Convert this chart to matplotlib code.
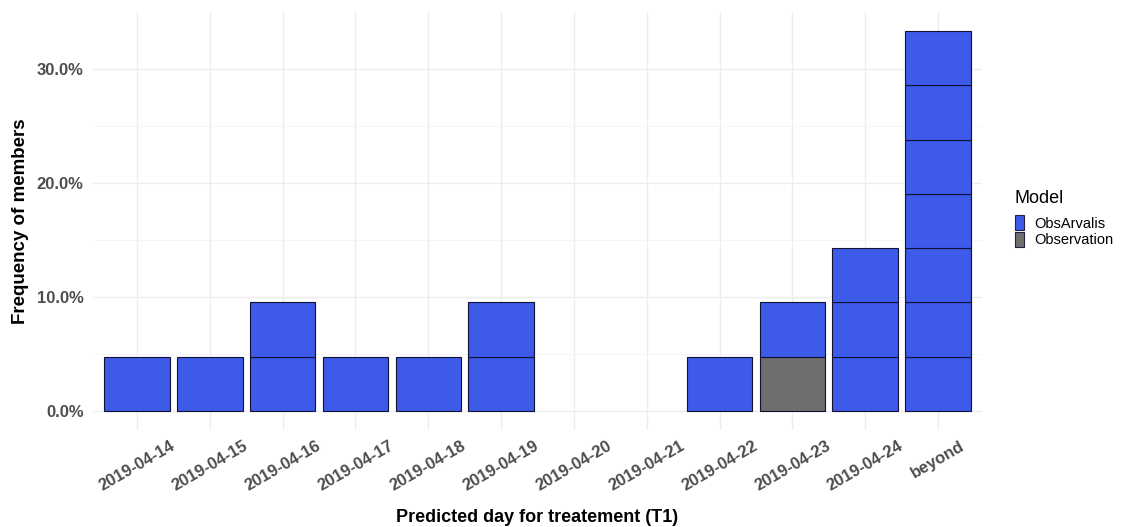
import matplotlib
matplotlib.use("Agg")
import matplotlib.pyplot as plt
from matplotlib.patches import Patch
from matplotlib.ticker import FixedLocator

plt.rcParams['font.family'] = ['Liberation Sans', 'DejaVu Sans']

# ---- data ----
categories = ['2019-04-14', '2019-04-15', '2019-04-16', '2019-04-17', '2019-04-18',
              '2019-04-19', '2019-04-20', '2019-04-21', '2019-04-22', '2019-04-23',
              '2019-04-24', 'beyond']
observation_counts = [0, 0, 0, 0, 0, 0, 0, 0, 0, 1, 0, 0]
obsarvalis_counts = [1, 1, 2, 1, 1, 2, 0, 0, 1, 1, 3, 7]
n_members = 21
y_ticks = [0, 10, 20, 30]
y_tick_labels = ['0.0%', '10.0%', '20.0%', '30.0%']
series_names = ['ObsArvalis', 'Observation']
series_colors = {'ObsArvalis': '#3D5AE8', 'Observation': '#6E6E6E'}

W, H = 1121, 527
fig = plt.figure(figsize=(W / 100, H / 100), dpi=100)
left_px, right_px, top_px, bottom_px = 93.3, 981.7, 12, 430
ax = fig.add_axes([left_px / W, (H - bottom_px) / H,
                   (right_px - left_px) / W, (bottom_px - top_px) / H])

unit = 100.0 / n_members
x = list(range(len(categories)))
for i in x:
    level = 0
    segs = [('Observation', observation_counts[i]), ('ObsArvalis', obsarvalis_counts[i])]
    for name, cnt in segs:
        for _ in range(cnt):
            ax.bar(i, unit, bottom=level * unit, width=0.9,
                   color=series_colors[name], edgecolor='#111133', linewidth=0.8,
                   zorder=3)
            level += 1

ymax = max(o + a for o, a in zip(observation_counts, obsarvalis_counts)) * unit
ax.set_ylim(-0.05 * ymax, ymax * 1.05)
ax.set_xlim(-0.6, len(categories) - 0.4)

# grid
ax.set_yticks(y_ticks)
ax.set_yticklabels(y_tick_labels)
ax.yaxis.set_minor_locator(FixedLocator([5, 15, 25]))
ax.set_xticks(x)
ax.set_xticklabels(categories, rotation=30, ha='center')
ax.grid(True, which='major', color='#EDEDED', linewidth=1.0, zorder=0)
ax.grid(True, which='minor', axis='y', color='#F4F4F4', linewidth=0.6, zorder=0)
ax.set_axisbelow(True)

for s in ax.spines.values():
    s.set_visible(False)
ax.tick_params(axis='both', which='both', length=0)
ax.tick_params(axis='y', pad=7, labelsize=12, labelcolor='#4D4D4D')
ax.tick_params(axis='x', pad=6, labelsize=12, labelcolor='#4D4D4D')
for lab in ax.get_xticklabels() + ax.get_yticklabels():
    lab.set_fontweight('bold')

ax.set_xlabel('Predicted day for treatement (T1)', fontsize=13, fontweight='bold', color='black')
ax.xaxis.set_label_coords(0.5, (bottom_px - 517) / (bottom_px - top_px))
ax.xaxis.label.set_va('center')
ax.set_ylabel('Frequency of members', fontsize=13.5, fontweight='bold', color='black')
ax.yaxis.set_label_coords((21 - left_px) / (right_px - left_px), 0.5)
ax.yaxis.label.set_va('center')

handles = [Patch(facecolor=series_colors[n], edgecolor='#222244', linewidth=0.8) for n in series_names]
leg = fig.legend(handles, series_names, loc='upper left',
                 bbox_to_anchor=(1015 / W, 1 - 190 / H), frameon=False,
                 title='Model', title_fontsize=13, fontsize=10.5,
                 handlelength=0.6, handleheight=1.15, handletextpad=0.7,
                 labelspacing=0.12, borderpad=0, borderaxespad=0)
leg._legend_box.align = 'left'
leg._legend_box.sep = 6

fig.savefig('out.png', dpi=100)
